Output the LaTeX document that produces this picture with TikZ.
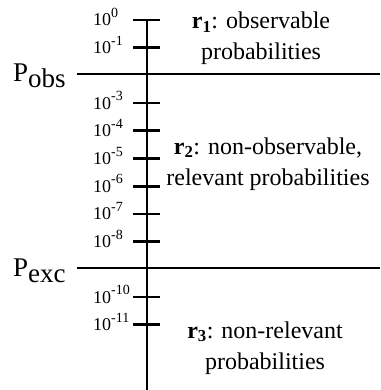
\documentclass[tikz,border=0pt]{standalone}
\usepackage{fontspec}
\setmainfont{Liberation Serif}
\usetikzlibrary{positioning}
\newcommand{\decexp}[1]{\raisebox{8.5pt}{\fontsize{14}{14}\selectfont #1}}
\tikzset{
  axisline/.style={line width=2.8pt},
  decade/.style={font=\fontsize{18}{20}\selectfont, anchor=base west, inner sep=0pt},
  bound/.style={font=\fontsize{27}{30}\selectfont, anchor=base west, inner sep=0pt},
  region/.style={font=\fontsize{24}{31}\selectfont, align=center, anchor=base, inner sep=0pt},
}

\begin{document}
\begin{tikzpicture}[x=1pt, y=-1pt]
  \useasboundingbox (0,0) rectangle (380,390);
  % axis
  \coordinate (top) at (147,20);
  \coordinate (bottom) at (147,390);
  \draw[axisline] (top) -- (bottom);
  % decades
  \foreach \k/\e in {0/0,1/-1,3/-3,4/-4,5/-5,6/-6,7/-7,8/-8,10/-10,11/-11} {
    \coordinate (t\k) at (147,20+27.7*\k);
    \draw[axisline] ([xshift=-14pt]t\k) -- ([xshift=13pt]t\k);
    \node[decade] (l\k) at (93,26+27.7*\k) {10\decexp{\e}};
  }
  % bounds
  \coordinate (obsL) at (77,74);
  \coordinate (obsR) at (380,74);
  \draw[axisline] (obsL) -- (obsR);
  \node[bound] (pobs) at (13,82) {P\raisebox{-6pt}{obs}};
  \coordinate (excL) at (77,268);
  \coordinate (excR) at (380,268);
  \draw[axisline] (excL) -- (excR);
  \node[bound] (pexc) at (13,276) {P\raisebox{-6pt}{exc}};
  % regions
  \node[region] (r1) at (261,60) {\textbf{r\textsubscript{1}}: observable\\probabilities};
  \node[region] (r2) at (268,185) {\textbf{r\textsubscript{2}}: non-observable,\\relevant probabilities};
  \node[region] (r3) at (265,369) {\textbf{r\textsubscript{3}}: non-relevant\\probabilities};
\end{tikzpicture}
\end{document}
